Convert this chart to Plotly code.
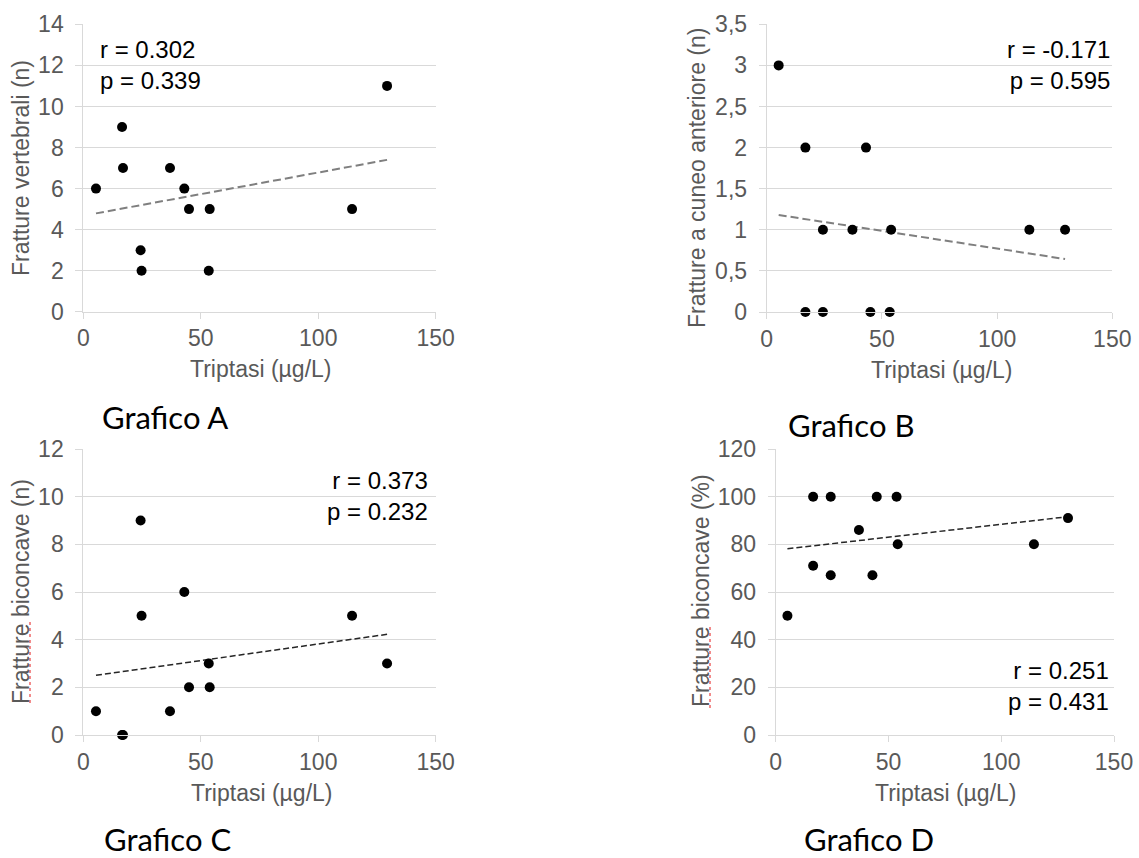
import numpy as np
import plotly.graph_objects as go

W, H = 1139, 858

# ---------------- data ----------------
triptasi_a = [5.4, 16.5, 16.9, 24.4, 24.8, 36.9, 43.0, 45.0, 53.4, 53.8, 114.4, 129.3]
fratture_vertebrali = [6, 9, 7, 3, 2, 7, 6, 5, 2, 5, 5, 11]

triptasi_b = [5.2, 16.8, 16.8, 24.4, 24.4, 37.2, 43.1, 45.0, 53.4, 54.0, 114.0, 129.5]
fratture_cuneo = [3, 2, 0, 1, 0, 1, 2, 0, 0, 1, 1, 1]

triptasi_c = [5.4, 16.5, 16.9, 24.4, 24.8, 36.9, 43.0, 45.0, 53.4, 53.8, 114.4, 129.3]
fratture_biconcave_n = [1, 0, 0, 9, 5, 1, 6, 2, 3, 2, 5, 3]

triptasi_d = [5.2, 16.6, 16.6, 24.4, 24.4, 36.9, 42.9, 44.8, 53.6, 54.1, 114.5, 129.6]
fratture_biconcave_pct = [50, 100, 71, 100, 67, 86, 67, 100, 100, 80, 80, 91]

x_ticks = [0, 50, 100, 150]
y_ticks_a = [0, 2, 4, 6, 8, 10, 12, 14]
y_ticks_b = [0, 0.5, 1, 1.5, 2, 2.5, 3, 3.5]
y_ticklabels_b = ["0", "0,5", "1", "1,5", "2", "2,5", "3", "3,5"]
y_ticks_c = [0, 2, 4, 6, 8, 10, 12]
y_ticks_d = [0, 20, 40, 60, 80, 100, 120]

x_title = "Triptasi (µg/L)"
y_titles = ["Fratture vertebrali (n)", "Fratture a cuneo anteriore (n)",
            "Fratture biconcave (n)", "Fratture biconcave (%)"]
stats = ["r = 0.302<br>p = 0.339", "r = -0.171<br>p = 0.595",
         "r = 0.373<br>p = 0.232", "r = 0.251<br>p = 0.431"]
panel_labels = ["Grafico A", "Grafico B", "Grafico C", "Grafico D"]


def px(x):
    return x / W


def py(y):
    return 1 - y / H


# panel boxes in pixels: (left, right, top, bottom)
boxes = [
    (83.3, 435.7, 24.3, 311.8),
    (766.7, 1112.3, 24.3, 312.0),
    (83.3, 435.7, 449.0, 735.0),
    (775.7, 1114.0, 449.0, 735.0),
]

panels = [
    (triptasi_a, fratture_vertebrali, y_ticks_a, None, "#7f7f7f", 2, "8px,4px"),
    (triptasi_b, fratture_cuneo, y_ticks_b, y_ticklabels_b, "#7f7f7f", 2, "8px,4px"),
    (triptasi_c, fratture_biconcave_n, y_ticks_c, None, "#262626", 1.5, "6px,3px"),
    (triptasi_d, fratture_biconcave_pct, y_ticks_d, None, "#262626", 1.5, "6px,3px"),
]

FONT = "Arial"

fig = go.Figure()
layout = dict(
    width=W, height=H,
    margin=dict(l=0, r=0, t=0, b=0, pad=0, autoexpand=False),
    paper_bgcolor="white", plot_bgcolor="white",
    showlegend=False,
    font=dict(family=FONT, color="#595959"),
)

xtick_font = dict(family=FONT, size=23, color="#595959")
ytick_font = dict(family=FONT, size=23, color="#595959")

for i, (xs, ys, yt, ytl, lcol, lw, dash) in enumerate(panels):
    n = "" if i == 0 else str(i + 1)
    xa, ya = "x" + n, "y" + n
    l, r, t, b = boxes[i]
    # trend line (least squares)
    xs_arr = np.array(xs, dtype=float)
    ys_arr = np.array(ys, dtype=float)
    m, c = np.polyfit(xs_arr, ys_arr, 1)
    xl = np.array([xs_arr.min(), xs_arr.max()])
    fig.add_trace(go.Scatter(x=xl, y=m * xl + c, mode="lines", xaxis=xa, yaxis=ya,
                             line=dict(color=lcol, width=lw, dash=dash), hoverinfo="skip"))
    fig.add_trace(go.Scatter(x=xs, y=ys, mode="markers", xaxis=xa, yaxis=ya,
                             cliponaxis=False,
                             marker=dict(color="black", size=10, line=dict(width=0))))
    layout["xaxis" + n] = dict(
        domain=[px(l), px(r)], anchor=ya, range=[0, 150],
        tickvals=x_ticks, ticks="outside", ticklen=6, tickcolor="#d9d9d9",
        showgrid=False, zeroline=False, showline=True, linecolor="#d9d9d9", linewidth=1,
        tickfont=xtick_font, ticklabelstandoff=0, fixedrange=True, automargin=False,
    )
    ydict = dict(
        domain=[py(b), py(t)], anchor=xa, range=[yt[0], yt[-1]],
        tickvals=yt, ticks="outside", ticklen=7, tickcolor="#d9d9d9",
        showgrid=True, gridcolor="#d9d9d9", gridwidth=1,
        zeroline=False, showline=True, linecolor="#d9d9d9", linewidth=1,
        tickfont=ytick_font, ticklabelstandoff=7, fixedrange=True, automargin=False,
    )
    if ytl is not None:
        ydict["ticktext"] = ytl
    layout["yaxis" + n] = ydict

fig.update_layout(**layout)

title_font = dict(family=FONT, size=23, color="#595959")
stat_font = dict(family=FONT, size=24, color="black")
label_font = dict(family="Lato", size=31, color="black")

ann = []
# x-axis titles
for (cx, cy) in [(260, 369), (941, 370), (261, 793), (945, 793)]:
    ann.append(dict(text=x_title, x=px(cx), y=py(cy), xref="paper", yref="paper",
                    xanchor="center", yanchor="middle", showarrow=False, font=title_font))
# y-axis titles
for (cx, cy), t in zip([(21, 168), (697, 178), (21, 592), (701, 591)], y_titles):
    ann.append(dict(text=t, x=px(cx), y=py(cy), xref="paper", yref="paper",
                    xanchor="center", yanchor="middle", textangle=-90,
                    showarrow=False, font=title_font))
# stats
stat_pos = [(98, 65, "left"), (1112, 65, "right"), (430, 496, "right"), (1111, 686, "right")]
for (sx, sy, al), s in zip(stat_pos, stats):
    ann.append(dict(text=s, x=px(sx), y=py(sy), xref="paper", yref="paper",
                    xanchor=al, yanchor="middle", align=al, showarrow=False, font=stat_font))
# panel labels
for (lx, ly), s in zip([(100, 417), (786, 425), (102, 839), (802, 839)], panel_labels):
    ann.append(dict(text=s, x=px(lx), y=py(ly), xref="paper", yref="paper",
                    xanchor="left", yanchor="middle", showarrow=False, font=label_font))

fig.update_layout(annotations=ann)

# spell-check squiggles under "Fratture" (C and D)
shapes = []
for (sx, y0, y1) in [(30, 622, 703), (710, 627, 708)]:
    shapes.append(dict(type="line", xref="paper", yref="paper",
                       x0=px(sx), x1=px(sx), y0=py(y0), y1=py(y1),
                       line=dict(color="#f28b8b", width=2, dash="dot")))
fig.update_layout(shapes=shapes)

fig.write_html("out.html")
